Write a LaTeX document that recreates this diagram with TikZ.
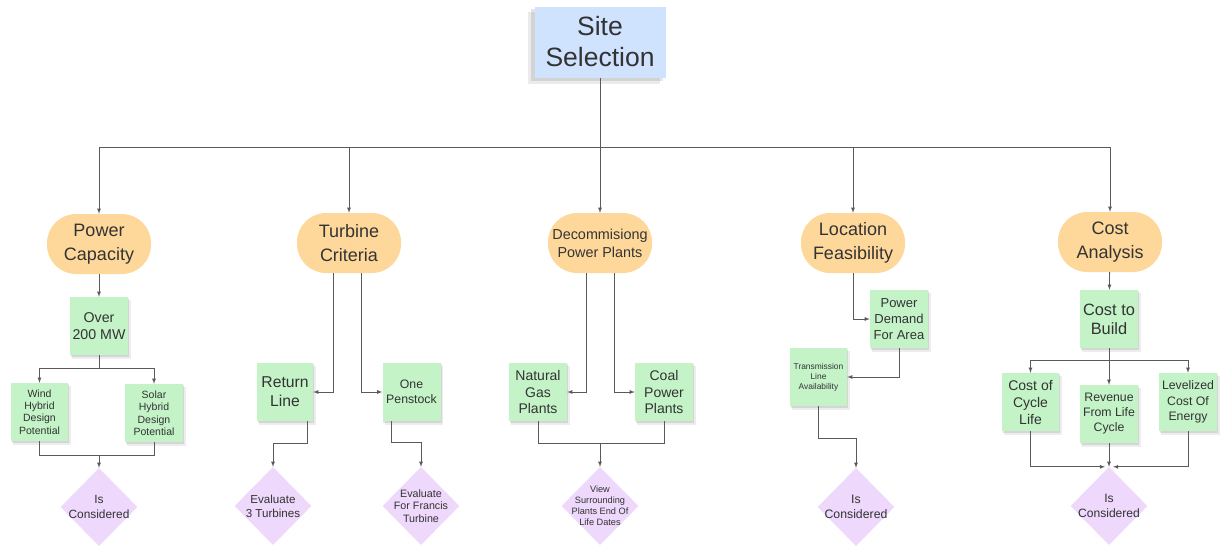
\documentclass[tikz,border=0pt]{standalone}
\usepackage{fontspec}
\setmainfont{Liberation Sans}
\usetikzlibrary{shapes.geometric,backgrounds}
\definecolor{siteblue}{RGB}{207,226,254}
\definecolor{areaorange}{RGB}{254,216,155}
\definecolor{notegreen}{RGB}{196,243,200}
\definecolor{decpurple}{RGB}{238,216,251}
\definecolor{txtgray}{RGB}{51,51,51}
\definecolor{linegray}{RGB}{90,90,90}
\tikzset{
  sitebox/.style={fill=siteblue,text=txtgray,align=center,minimum width=131,minimum height=71,inner sep=1pt},
  areabox/.style={fill=areaorange,text=txtgray,align=center,rounded corners=29,minimum width=104,minimum height=60,inner sep=1pt},
  notebox/.style={fill=notegreen,text=txtgray,align=center,minimum width=58,minimum height=58,inner sep=1pt},
  decision/.style={diamond,fill=decpurple,minimum width=77,minimum height=78,inner sep=0pt},
  dectext/.style={text=txtgray,align=center},
  conn/.style={draw=linegray,line width=0.8pt},
  softshadow/.style={fill=black,opacity=#1}
}
\begin{document}
\begin{tikzpicture}[x=1pt,y=-1pt]
\useasboundingbox (0,0) rectangle (1225,550);
% top of the tree
\node[sitebox,font=\fontsize{26.5}{31}\selectfont] (site) at (600,42) {Site\\Selection};
\coordinate (bus) at (600,147);

% the five areas
\node[areabox,font=\fontsize{18}{24}\selectfont] (pc) at (99,244) {Power\\Capacity};
\node[areabox,font=\fontsize{18}{24}\selectfont] (tc) at (349,243) {Turbine\\Criteria};
\node[areabox,font=\fontsize{14.4}{18}\selectfont] (dp) at (600,243) {Decommisiong\\Power Plants};
\node[areabox,font=\fontsize{18}{24}\selectfont] (lf) at (853,243) {Location\\Feasibility};
\node[areabox,font=\fontsize{18}{24}\selectfont] (ca) at (1110,242) {Cost\\Analysis};

\draw[conn] (site) -- (bus);
\foreach \a in {pc,tc,dp,lf,ca}
  \draw[conn,-latex] (bus) -| (\a.north);

% power capacity
\node[notebox,font=\fontsize{14.2}{16.7}\selectfont] (over) at (99,326) {Over\\200 MW};
\node[notebox,minimum width=57,font=\fontsize{10.5}{12.4}\selectfont] (wind) at (39.5,412) {Wind\\Hybrid\\Design\\Potential};
\node[notebox,font=\fontsize{10.5}{12.5}\selectfont] (solar) at (154,413) {Solar\\Hybrid\\Design\\Potential};
\node[decision,label={[dectext,font=\fontsize{11.9}{15}\selectfont]center:{Is\\Considered}}] (isc1) at (99,507) {};
\coordinate (j1) at (99,455);
\draw[conn,-latex] (pc) -- (over);
\draw[conn,-latex] (over.south) -- ++(0,13) -| (wind.north);
\draw[conn,-latex] (over.south) -- ++(0,13) -| (solar.north);
\draw[conn] (wind.south) |- (j1) -| (solar.south);
\draw[conn,-latex] (j1) -- (isc1.north);

% turbine criteria
\node[notebox,minimum width=56,font=\fontsize{15.7}{19}\selectfont] (ret) at (285,392) {Return\\Line};
\node[notebox,font=\fontsize{12.3}{14.5}\selectfont] (pen) at (411.5,392) {One\\Penstock};
\node[decision,label={[dectext,font=\fontsize{11.6}{14.3}\selectfont]center:{Evaluate\\3 Turbines}}] (ev3) at (273,506) {};
\node[decision,label={[dectext,font=\fontsize{10.7}{12.5}\selectfont]center:{Evaluate\\For Francis\\Turbine}}] (evf) at (421,506) {};
\draw[conn,-latex] ([xshift=-16]tc.south) |- (ret.east);
\draw[conn,-latex] ([xshift=12]tc.south) |- (pen.west);
\draw[conn,-latex] ([xshift=22]ret.south) -- ++(0,22) -| (ev3.north);
\draw[conn,-latex] ([xshift=-20]pen.south) -- ++(0,21) -| (evf.north);

% decommissioning
\node[notebox,font=\fontsize{14}{16.7}\selectfont] (gas) at (538,392) {Natural\\Gas\\Plants};
\node[notebox,font=\fontsize{14}{16.7}\selectfont] (coal) at (664,392) {Coal\\Power\\Plants};
\node[decision,label={[dectext,font=\fontsize{9.2}{11}\selectfont]center:{View\\Surrounding\\Plants End Of\\Life Dates}}] (view) at (600,506) {};
\coordinate (j3) at (600,443);
\draw[conn,-latex] ([xshift=-14]dp.south) |- (gas.east);
\draw[conn,-latex] ([xshift=14]dp.south) |- (coal.west);
\draw[conn] (gas.south) |- (j3) -| (coal.south);
\draw[conn,-latex] (j3) -- (view.north);

% location feasibility
\node[notebox,font=\fontsize{13}{15.7}\selectfont] (dem) at (899,319) {Power\\Demand\\For Area};
\node[notebox,minimum width=57,font=\fontsize{8.4}{10}\selectfont] (trans) at (818.5,377) {Transmission\\Line\\Availability};
\node[decision,label={[dectext,font=\fontsize{12.3}{15}\selectfont]center:{Is\\Considered}}] (isc4) at (856,507) {};
\draw[conn,-latex] (lf.south) |- (dem.west);
\draw[conn,-latex] (dem.south) |- (trans.east);
\draw[conn,-latex] (trans.south) -- ++(0,32) -| (isc4.north);

% cost analysis
\node[notebox,font=\fontsize{16.4}{19}\selectfont] (build) at (1109,319) {Cost to\\Build};
\node[notebox,minimum width=57,font=\fontsize{14}{17}\selectfont] (ccl) at (1030.5,402) {Cost of\\Cycle\\Life};
\node[notebox,font=\fontsize{12.3}{15}\selectfont] (rev) at (1109,414) {Revenue\\From Life\\Cycle};
\node[notebox,font=\fontsize{12.3}{15.5}\selectfont] (lcoe) at (1188,402) {Levelized\\Cost Of\\Energy};
\node[decision,label={[dectext,font=\fontsize{12.1}{15}\selectfont]center:{Is\\Considered}}] (isc5) at (1109,506) {};
\coordinate (j5) at (1109,360);
\draw[conn,-latex] (ca) -- (build);
\draw[conn] (build.south) -- (j5);
\draw[conn,-latex] (j5) -| (ccl.north);
\draw[conn,-latex] (j5) -| (lcoe.north);
\draw[conn,-latex] (j5) -- (rev.north);
\draw[conn,-latex] (ccl.south) |- ([xshift=-4]isc5.north);
\draw[conn,-latex] (lcoe.south) |- ([xshift=4]isc5.north);
\draw[conn,-latex] (rev) -- (isc5);

% shadows behind the notes
\begin{scope}[on background layer]
  \fill[softshadow=.08] ([xshift=-6pt,yshift=-6pt]site.south west) rectangle ([xshift=-6pt,yshift=-6pt]site.north east);
  \fill[softshadow=.1] ([xshift=-3pt,yshift=-3pt]site.south west) rectangle ([xshift=-3pt,yshift=-3pt]site.north east);
  \foreach \n in {over,wind,solar,ret,pen,gas,coal,dem,trans,build,ccl,rev,lcoe}{
    \fill[softshadow=.07] ([xshift=2.5pt,yshift=-3.5pt]\n.south west) rectangle ([xshift=2.5pt,yshift=-3.5pt]\n.north east);
    \fill[softshadow=.1] ([xshift=1pt,yshift=-1.5pt]\n.south west) rectangle ([xshift=1pt,yshift=-1.5pt]\n.north east);
  }
\end{scope}
\end{tikzpicture}
\end{document}
